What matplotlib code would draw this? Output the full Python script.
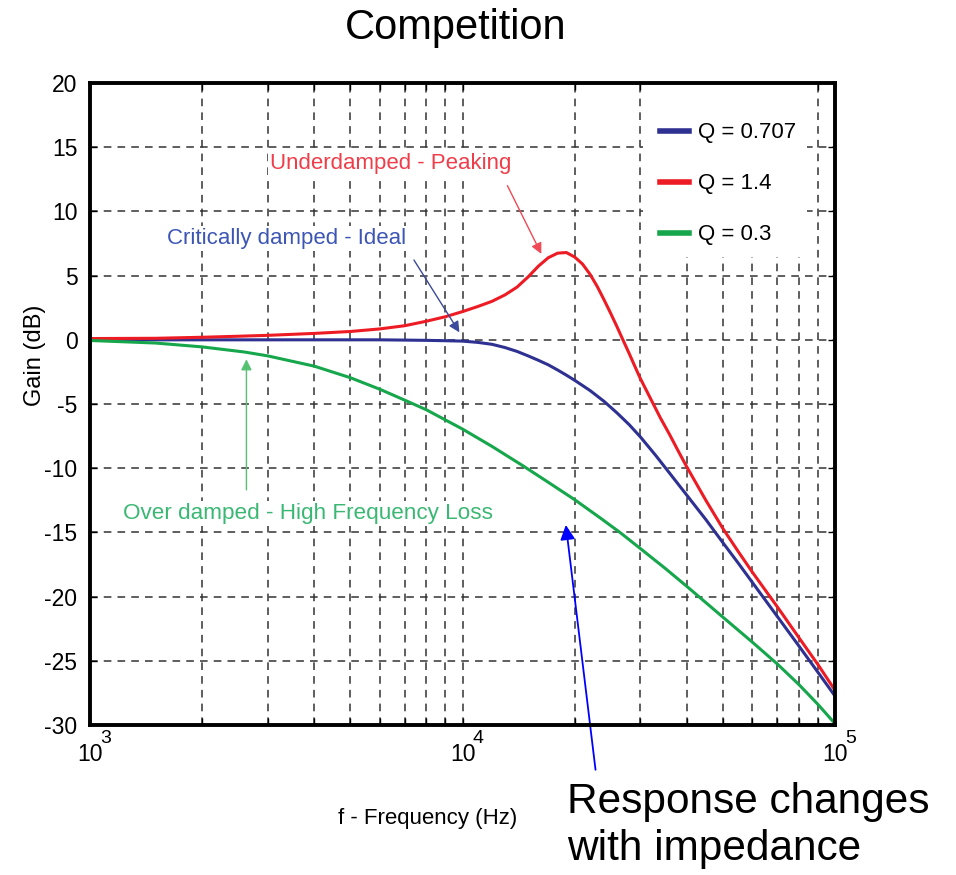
import matplotlib
matplotlib.use("Agg")
import matplotlib.pyplot as plt
from matplotlib.patches import Rectangle
from matplotlib.ticker import FixedLocator, NullFormatter

plt.rcParams['font.family'] = ['Liberation Sans', 'DejaVu Sans']
plt.rcParams['axes.unicode_minus'] = False

# values (Hz, dB)
freq_q0707 = [1000, 2000, 3000, 4000, 5000, 6000, 7000, 8000, 9000, 10000, 11000, 12000,
              13000, 14000, 15000, 16000, 17000, 18000, 19000, 20000, 22000, 24000, 26000,
              28000, 30000, 33000, 36000, 40000, 45000, 50000, 55000, 60000, 70000, 80000,
              90000, 100000]
gain_q0707 = [0.0, 0.0, 0.0, 0.0, 0.0, 0.0, -0.02, -0.04, -0.07, -0.1, -0.2, -0.35,
              -0.6, -0.9, -1.25, -1.6, -1.95, -2.35, -2.75, -3.15, -3.95, -4.8, -5.7,
              -6.6, -7.55, -9.0, -10.4, -12.1, -14.0, -15.8, -17.4, -18.9, -21.55, -23.85,
              -25.9, -27.75]

freq_q14 = [1000, 1500, 2000, 2500, 3000, 4000, 5000, 6000, 7000, 8000, 9000, 10000,
            11000, 12000, 13000, 14000, 15000, 16000, 17000, 18000, 19000, 20000, 21000,
            22000, 23000, 24000, 25000, 26000, 27000, 28000, 29000, 30000, 32000, 34000,
            36000, 38000, 40000, 45000, 50000, 55000, 60000, 70000, 80000, 90000, 100000]
gain_q14 = [0.1, 0.12, 0.2, 0.28, 0.35, 0.5, 0.65, 0.85, 1.1, 1.45, 1.8, 2.2,
            2.6, 3.0, 3.5, 4.1, 4.9, 5.75, 6.4, 6.75, 6.8, 6.45, 5.9,
            5.1, 4.15, 3.1, 2.05, 1.0, -0.05, -1.05, -2.05, -3.0, -4.6, -6.1,
            -7.4, -8.7, -9.9, -12.5, -14.7, -16.5, -18.1, -20.8, -23.2, -25.3, -27.3]

freq_q03 = [1000, 1500, 2000, 2600, 3000, 4000, 5000, 6000, 7000, 8000, 10000, 12000,
            14600, 17000, 20000, 23500, 26600, 30000, 35000, 40000, 50000, 60000, 70000,
            80000, 90000, 100000]
gain_q03 = [-0.05, -0.25, -0.55, -0.95, -1.25, -2.05, -2.95, -3.85, -4.7, -5.45, -6.95, -8.3,
            -9.85, -11.1, -12.45, -13.9, -15.05, -16.25, -17.8, -19.2, -21.6, -23.55, -25.25,
            -26.85, -28.4, -29.9]

series_labels = ['Q = 0.707', 'Q = 1.4', 'Q = 0.3']
y_ticks = [20, 15, 10, 5, 0, -5, -10, -15, -20, -25, -30]
x_ticks = [1e3, 1e4, 1e5]
x_tick_exponents = ['3', '4', '5']

blue = '#2e3192'
red = '#ed1c24'
green = '#16a64b'

fig = plt.figure(figsize=(9.56, 8.75), dpi=100)
ax = fig.add_axes([0.0941, 0.1714, 0.7794, 0.7337])
ax.set_axisbelow(True)

ax.plot(freq_q0707, gain_q0707, color=blue, lw=2.2, label=series_labels[0], zorder=3)
ax.plot(freq_q14, gain_q14, color=red, lw=2.2, label=series_labels[1], zorder=3)
ax.plot(freq_q03, gain_q03, color=green, lw=2.2, label=series_labels[2], zorder=3)

ax.set_xscale('log')
ax.set_xlim(1e3, 1e5)
ax.set_ylim(-30, 20)
ax.set_yticks(y_ticks)
ax.set_xticks(x_ticks)
ax.set_xticklabels(['10'] * len(x_ticks))
ax.xaxis.set_minor_locator(FixedLocator([m * d for d in (1e3, 1e4) for m in range(2, 10)]))
ax.xaxis.set_minor_formatter(NullFormatter())

# matlab-style exponent above and right of the "10"
for t, e in zip(x_ticks, x_tick_exponents):
    ax.annotate(e, xy=(t, 0), xycoords=('data', 'axes fraction'), xytext=(11.5, -9.5),
                textcoords='offset points', ha='center', va='center', fontsize=14,
                annotation_clip=False)

ax.grid(True, which='major', axis='both', color='#333333', ls=(0, (5, 4)), lw=1.1)
ax.grid(True, which='minor', axis='x', color='#333333', ls=(0, (5, 4)), lw=1.1)
ax.tick_params(which='both', direction='in', top=True, right=True, length=5, width=1)
ax.tick_params(axis='y', labelsize=16.5, pad=9)
ax.tick_params(axis='x', labelsize=16.5, pad=13)
for s in ax.spines.values():
    s.set_linewidth(2.8)
    s.set_zorder(4)

# white patch behind the legend hides the grid there
ax.add_patch(Rectangle((0.742, 0.729), 0.22, 0.28, transform=ax.transAxes,
                       facecolor='white', edgecolor='none', zorder=1))
leg = ax.legend(loc='upper left', bbox_to_anchor=(0.765, 0.9386), frameon=False,
                fontsize=16, handlelength=1.3, handletextpad=0.42, labelspacing=1.35,
                borderpad=0, borderaxespad=0)
for line in leg.get_lines():
    line.set_linewidth(4)

# annotations
box = dict(facecolor='white', edgecolor='none', pad=1.5)
ax.text(3050, 13.7, 'Underdamped - Peaking', color='#ef3e4a', fontsize=16, va='center',
        bbox=box, zorder=2)
ax.annotate('', xy=(16400, 6.5), xytext=(13100, 12.2),
            arrowprops=dict(arrowstyle='-|>', color='#ef4a55', lw=1.0, mutation_scale=16))
ax.text(1610, 7.9, 'Critically damped - Ideal', color='#3d56b5', fontsize=16, va='center',
        bbox=box, zorder=2)
ax.annotate('', xy=(9900, 0.4), xytext=(7340, 6.4),
            arrowprops=dict(arrowstyle='-|>', color='#3b4a9a', lw=1.0, mutation_scale=16))
ax.text(1230, -13.5, 'Over damped - High Frequency Loss', color='#3ab873', fontsize=16.2,
        va='center', bbox=box, zorder=2)
ax.annotate('', xy=(2630, -1.3), xytext=(2630, -11.9),
            arrowprops=dict(arrowstyle='-|>', color='#56c271', lw=1.0, mutation_scale=16))
ax.annotate('', xy=(18900, -14.2), xytext=(22800, -33.7), annotation_clip=False,
            arrowprops=dict(arrowstyle='-|>', color='#0000ff', lw=1.3, mutation_scale=22))

fig.text(0.447, 0.065, 'f - Frequency (Hz)', fontsize=16, ha='center', va='center')
fig.text(0.037, 0.594, 'Gain (dB)', fontsize=17, rotation=90, ha='center', va='center')
fig.text(0.477, 0.968, 'Competition', fontsize=30, ha='center', va='center')
fig.text(0.593, 0.0709, 'Response changes', fontsize=30.5, ha='left', va='baseline')
fig.text(0.593, 0.0171, 'with impedance', fontsize=30.5, ha='left', va='baseline')

plt.savefig('out.png', dpi=100)
